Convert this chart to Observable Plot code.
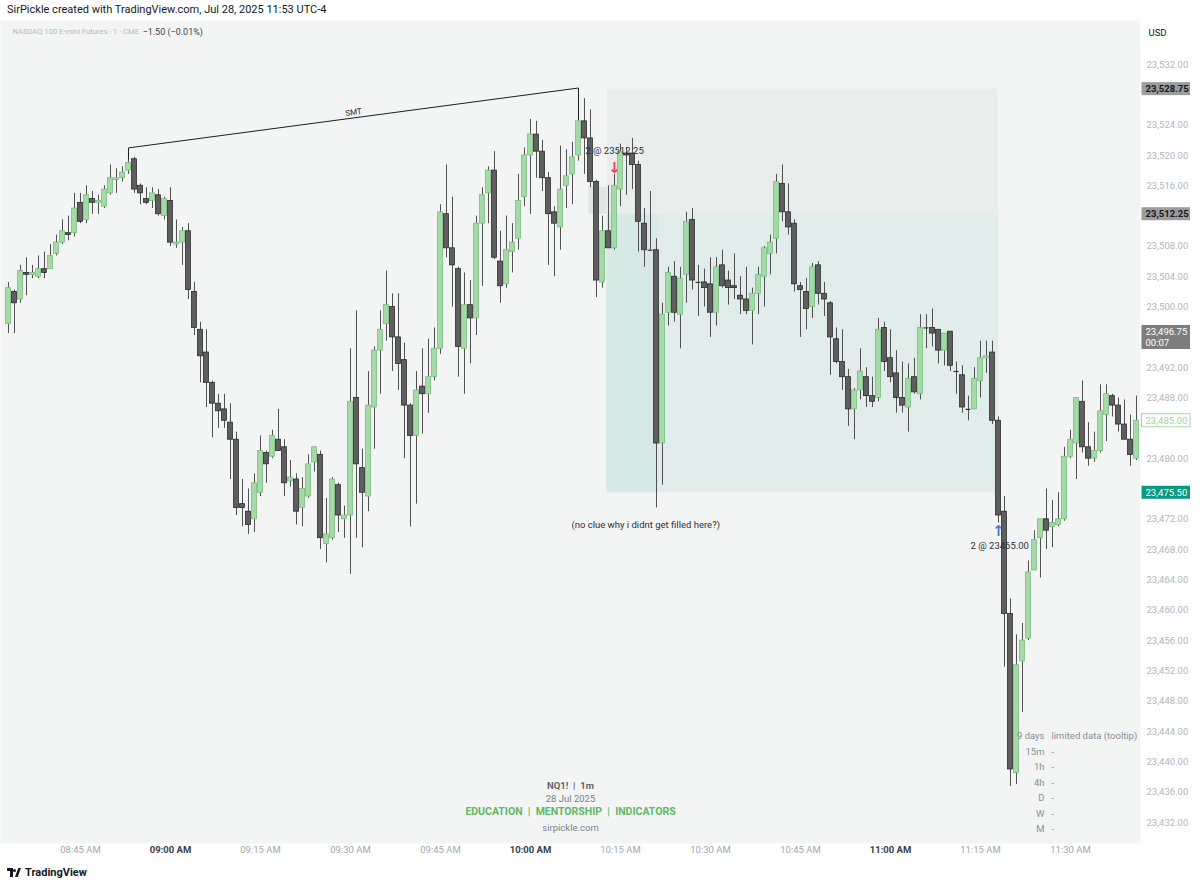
<!DOCTYPE html>
<html><head><meta charset="utf-8">
<script src="https://cdn.jsdelivr.net/npm/d3@7"></script>
<script src="https://cdn.jsdelivr.net/npm/@observablehq/plot@0.6"></script>
<style>
html,body{margin:0;padding:0;background:#fff;}
body{width:1200px;height:883px;overflow:hidden;font-family:Roboto,"Liberation Sans",sans-serif;}
#hdr{height:20px;line-height:20px;font-size:11px;color:#131722;padding-left:7px;box-sizing:border-box;}
#chart{height:842px;}
#ftr{height:21px;display:flex;align-items:center;padding-left:7px;font-size:11px;font-weight:700;color:#131722;gap:4px;}
.logo{position:relative;width:14px;height:9px;}
.logo .a{position:absolute;left:0;top:0;width:6px;height:3px;background:#131722;}
.logo .b{position:absolute;left:3px;top:0;width:3px;height:9px;background:#131722;}
.logo .c{position:absolute;left:6px;top:1px;width:3px;height:3px;border-radius:50%;background:#131722;}
.logo .d{position:absolute;left:8px;top:0;width:6px;height:9px;background:#131722;clip-path:polygon(55% 0,100% 0,45% 100%,0 100%);}
</style></head>
<body>
<div id="hdr">SirPickle created with TradingView.com, Jul 28, 2025 11:53 UTC-4</div>
<div id="chart"></div>
<div id="ftr"><div class="logo"><div class="a"></div><div class="b"></div><div class="c"></div><div class="d"></div></div><span>TradingView</span></div>
<script>
// ---------- DATA ----------
const startMinute = 8 * 60 + 33; // first 1-minute bar: 08:33
const opens = [
23497.75,23502.0,23501.0,23504.5,23504.25,23504.0,23505.0,23505.0,23507.0,23508.5,
23509.75,23509.75,23513.75,23511.5,23514.25,23513.75,23513.25,23515.0,23516.75,23517.0,
23518.0,23519.5,23516.0,23514.25,23514.0,23514.75,23512.0,23514.0,23508.25,23508.5,
23510.0,23502.0,23497.0,23494.0,23490.0,23487.25,23486.5,23484.75,23482.5,23474.0,
23473.0,23472.0,23475.5,23480.75,23480.25,23482.5,23481.5,23477.0,23477.25,23473.5,
23475.0,23479.5,23480.5,23468.75,23469.5,23476.5,23472.0,23472.5,23488.0,23478.75,
23475.0,23486.75,23494.25,23497.75,23500.0,23496.0,23493.0,23487.0,23483.0,23489.5,
23488.5,23490.75,23494.5,23512.25,23507.75,23505.0,23494.5,23500.25,23498.5,23511.0,
23515.0,23518.0,23506.0,23503.0,23507.25,23509.0,23514.5,23520.0,23522.75,23520.5,
23517.0,23512.5,23510.5,23516.0,23517.5,23520.0,23524.5,23522.25,23516.5,23503.25,
23510.0,23507.75,23515.5,23520.25,23520.25,23518.75,23511.0,23507.5,23507.5,23482.0,
23499.25,23504.0,23499.0,23504.25,23511.5,23503.25,23503.25,23503.0,23499.25,23505.5,
23503.5,23502.75,23501.5,23501.0,23499.5,23501.75,23504.0,23507.0,23509.0,23516.25,
23512.5,23511.0,23502.75,23502.0,23500.0,23505.5,23501.75,23500.5,23495.75,23492.75,
23490.75,23486.5,23489.0,23490.75,23488.25,23488.0,23497.25,23493.25,23491.25,23488.0,
23486.75,23490.75,23488.5,23497.25,23497.25,23497.0,23494.25,23496.75,23491.5,23491.0,
23486.5,23486.5,23490.25,23493.25,23494.0,23485.0,23473.0,23459.5,23438.5,23453.25,
23456.25,23465.25,23469.5,23472.0,23471.0,23471.25,23472.0,23480.25,23482.0,23487.5,
23481.5,23480.0,23481.0,23485.75,23488.25,23487.0,23484.5,23482.5,23480.0];
const highs = [
23503.25,23502.25,23505.5,23506.5,23505.5,23506.75,23507.25,23508.25,23509.5,23511.5,
23512.0,23515.0,23515.0,23516.0,23515.25,23514.75,23516.0,23518.75,23518.25,23518.5,
23520.75,23519.75,23516.25,23515.75,23515.75,23515.5,23514.5,23515.75,23511.5,23510.5,
23511.0,23503.25,23498.0,23497.0,23490.25,23488.5,23488.5,23487.25,23483.5,23477.25,
23476.0,23478.0,23483.0,23481.0,23483.75,23486.5,23482.5,23479.75,23478.0,23477.5,
23480.5,23481.5,23481.0,23474.75,23477.5,23476.75,23473.75,23494.5,23499.5,23481.25,
23491.5,23494.75,23499.5,23504.75,23501.75,23501.75,23495.25,23487.25,23491.5,23494.5,
23495.75,23497.25,23513.5,23518.75,23514.5,23505.25,23504.5,23503.5,23512.0,23515.75,
23518.5,23520.5,23510.0,23512.0,23511.0,23517.5,23521.0,23524.75,23524.5,23522.0,
23517.75,23513.25,23521.25,23520.75,23521.75,23526.0,23527.5,23526.0,23516.75,23512.0,
23516.0,23517.5,23521.5,23521.0,23522.25,23519.25,23513.0,23515.25,23509.0,23500.5,
23505.25,23506.0,23505.25,23512.5,23513.0,23505.5,23505.0,23506.5,23506.5,23507.5,
23504.75,23507.0,23504.0,23505.25,23502.5,23505.25,23508.0,23509.5,23517.5,23518.75,
23516.25,23511.5,23503.25,23503.75,23505.75,23506.0,23503.25,23500.75,23497.25,23497.0,
23491.75,23489.25,23494.5,23492.0,23490.75,23498.5,23498.0,23497.0,23494.25,23492.75,
23492.5,23493.25,23499.0,23499.0,23499.75,23497.0,23496.5,23496.75,23492.75,23492.25,
23488.25,23492.0,23495.5,23495.5,23495.5,23485.5,23475.0,23461.5,23456.75,23458.25,
23466.5,23470.5,23472.0,23476.0,23474.5,23475.5,23481.5,23483.75,23488.0,23490.25,
23484.75,23483.5,23489.75,23489.75,23488.5,23488.0,23487.75,23485.75,23488.25];
const lows = [
23496.5,23496.5,23500.5,23501.5,23503.75,23503.75,23503.75,23505.0,23506.75,23508.25,
23508.75,23509.25,23511.0,23511.0,23512.25,23512.25,23513.0,23514.75,23515.0,23516.5,
23517.5,23515.0,23513.5,23513.5,23513.0,23512.0,23511.5,23508.0,23507.75,23505.5,
23501.0,23496.25,23490.0,23486.75,23482.75,23484.0,23484.0,23477.25,23472.5,23471.0,
23470.0,23470.25,23475.0,23476.75,23480.0,23481.0,23475.0,23476.25,23471.25,23471.0,
23474.75,23478.25,23468.0,23466.25,23469.25,23470.25,23469.5,23464.75,23469.5,23468.25,
23473.0,23481.25,23488.5,23495.5,23491.5,23489.0,23480.0,23471.0,23474.0,23483.25,
23486.0,23490.25,23493.75,23506.5,23500.0,23490.75,23488.5,23492.5,23496.25,23502.75,
23511.0,23506.25,23500.5,23502.5,23504.5,23507.5,23513.25,23512.25,23517.0,23515.25,
23505.5,23504.0,23507.5,23513.0,23513.5,23519.25,23517.5,23515.75,23501.25,23502.5,
23507.75,23507.5,23513.25,23514.75,23515.5,23507.25,23505.25,23507.5,23473.5,23476.5,
23497.5,23498.0,23494.5,23500.5,23502.25,23498.75,23500.0,23496.0,23497.5,23502.5,
23500.25,23501.0,23499.0,23499.0,23495.0,23499.0,23500.0,23504.25,23507.0,23511.25,
23509.5,23502.0,23496.0,23497.0,23498.5,23500.25,23498.75,23491.0,23492.5,23489.0,
23484.25,23482.5,23487.75,23486.75,23486.75,23487.5,23491.5,23490.0,23486.0,23486.0,
23483.5,23488.5,23487.75,23494.5,23494.75,23492.5,23492.25,23491.5,23488.5,23486.0,
23485.0,23486.5,23488.0,23491.25,23484.5,23471.5,23452.5,23436.75,23437.0,23446.5,
23456.0,23465.25,23464.25,23468.0,23468.25,23471.0,23471.75,23480.0,23477.25,23480.75,
23479.0,23479.5,23480.75,23482.25,23485.5,23483.5,23482.5,23479.0,23479.75];
const closes = [
23502.5,23500.5,23504.75,23504.25,23504.5,23505.0,23504.5,23506.75,23508.5,23510.0,
23509.5,23513.0,23511.25,23514.75,23513.75,23514.0,23515.5,23517.0,23517.0,23517.75,
23519.0,23515.5,23515.0,23513.75,23515.0,23512.25,23514.25,23508.5,23508.5,23510.0,
23502.25,23497.25,23493.5,23490.0,23487.25,23486.25,23485.0,23482.5,23473.5,23473.5,
23471.25,23476.75,23481.0,23479.25,23483.0,23481.0,23476.75,23477.5,23473.0,23476.0,
23479.25,23481.5,23469.5,23470.0,23477.25,23472.5,23472.5,23487.5,23479.25,23475.5,
23487.0,23494.25,23497.0,23500.25,23496.0,23492.5,23487.0,23483.0,23489.0,23488.5,
23490.75,23494.5,23512.5,23507.75,23505.5,23494.75,23500.25,23498.5,23511.0,23514.75,
23518.0,23506.5,23502.75,23507.5,23508.5,23514.0,23520.0,23522.75,23520.5,23517.0,
23512.25,23511.0,23515.5,23517.25,23519.75,23524.5,23522.25,23516.5,23503.5,23510.0,
23507.75,23516.0,23520.5,23520.0,23518.75,23511.25,23507.5,23507.5,23482.0,23499.0,
23504.5,23499.25,23503.75,23511.25,23503.5,23503.25,23502.5,23499.25,23505.25,23502.75,
23502.5,23502.5,23501.0,23499.5,23501.75,23504.25,23507.75,23508.5,23516.5,23512.5,
23510.5,23503.0,23502.25,23499.75,23505.25,23501.75,23501.0,23496.0,23492.75,23490.75,
23486.5,23489.0,23491.5,23488.25,23487.5,23497.0,23492.75,23490.75,23488.0,23487.0,
23490.5,23488.75,23497.25,23497.25,23496.5,23494.25,23496.5,23492.25,23491.5,23486.75,
23486.5,23490.5,23493.25,23493.5,23485.0,23472.5,23459.5,23439.0,23452.75,23456.0,
23465.0,23469.25,23472.0,23470.5,23471.5,23472.0,23480.25,23482.5,23488.0,23481.5,
23480.0,23481.0,23486.25,23488.5,23487.0,23484.5,23482.5,23480.5,23485.0];

// short position tool (times in minutes after midnight, prices in USD)
const positionStart = 612.75, positionEnd = 678, filledEnd = 621.25;
const entryPrice = 23512.25, stopPrice = 23528.75, targetPrice = 23475.50;
const lastPrice = 23496.75, lastCountdown = "00:07", seriesPrice = 23485.00;

// SMT divergence line (time, price)
const smtTimes = [533, 533, 608, 608];
const smtPrices = [23519.5, 23521.0, 23528.9, 23524.75];

// annotations
const annotationTexts = ["2 @ 23512.25", "(no clue why i didnt get filled here?)", "2 @ 23465.00"];
const annotationTimes = [614, 619.2, 678.2];
const annotationPrices = [23520.65, 23471.3, 23468.5];
const arrowTimes = [614, 678];
const arrowPrices = [23518.3, 23470.4];
const arrowGlyphs = ["↓", "↑"];

// axes
const priceTicks = [23532,23528,23524,23520,23516,23512,23508,23504,23500,23496,23492,23488,
  23484,23480,23476,23472,23468,23464,23460,23456,23452,23448,23444,23440,23436,23432];
const timeTicks = [525,540,555,570,585,600,615,630,645,660,675,690];
const timeTickLabels = ["08:45 AM","09:00 AM","09:15 AM","09:30 AM","09:45 AM","10:00 AM",
  "10:15 AM","10:30 AM","10:45 AM","11:00 AM","11:15 AM","11:30 AM"];
const hourTicks = [540, 600, 660];

const tableLabels = ["9 days","15m","1h","4h","D","W","M"];
const tableValues = ["limited data (tooltip)","-","-","-","-","-","-"];

// ---------- BUILD ----------
const candles = opens.map((o, i) => ({t: startMinute + i, o, h: highs[i], l: lows[i], c: closes[i]}));
const up = candles.filter(d => d.c - d.o > 0.1);
const down = candles.filter(d => d.o - d.c > 0.1);
const doji = candles.filter(d => Math.abs(d.c - d.o) <= 0.1);
const hw = 0.4;

const xDomain = [511.667, 701.667];
const yDomain = [23429.23, 23537.805];
const xEnd = xDomain[1];
const minPerPx = 1 / 6, ptPerPx = 1 / 7.58;
const tagX1 = xEnd + 1.5 * minPerPx, tagX2 = xEnd + 50 * minPerPx;

const position = [{start: positionStart, end: positionEnd, filledEnd, entry: entryPrice, stop: stopPrice, target: targetPrice}];
const smt = smtTimes.map((t, i) => ({t, p: smtPrices[i]}));
const notes = annotationTexts.map((s, i) => ({s, t: annotationTimes[i], p: annotationPrices[i]}));
const arrows = arrowGlyphs.map((g, i) => ({g, t: arrowTimes[i], p: arrowPrices[i]}));
const ticks = timeTicks.map((t, i) => ({t, label: timeTickLabels[i], bold: hourTicks.includes(t)}));
const fmt = d3.format(",.2f");

// tags drawn on the price axis; tick labels hidden under them are left out
const tagSpans = [
  [stopPrice + 6.5 * ptPerPx, stopPrice - 6.5 * ptPerPx],
  [entryPrice + 6.5 * ptPerPx, entryPrice - 6.5 * ptPerPx],
  [lastPrice + 6.2 * ptPerPx, lastPrice - 17.8 * ptPerPx],
  [seriesPrice + 6.5 * ptPerPx, seriesPrice - 6.5 * ptPerPx],
  [targetPrice + 6.5 * ptPerPx, targetPrice - 6.5 * ptPerPx]
];
const visibleTicks = priceTicks.filter(p => !tagSpans.some(([hi, lo]) => p < hi + 5 * ptPerPx && p > lo - 5 * ptPerPx));

const grayTags = [stopPrice, entryPrice].map(p => ({p}));

const chart = Plot.plot({
  width: 1200, height: 842,
  marginLeft: 0, marginRight: 60, marginTop: 0, marginBottom: 19,
  x: {domain: xDomain, axis: null},
  y: {domain: yDomain, axis: null},
  style: {fontFamily: "Roboto, 'Liberation Sans', sans-serif", background: "transparent", overflow: "visible"},
  marks: [
    Plot.frame({fill: "#f3f5f4", stroke: "none"}),
    // position zones
    Plot.rect(position, {x1: "start", x2: "end", y1: "entry", y2: "stop", fill: "#e9edeb"}),
    Plot.rect(position, {x1: "start", x2: "end", y1: "entry", y2: "target", fill: "#e0edea"}),
    Plot.rect(position, {x1: "start", x2: "filledEnd", y1: "entry", y2: "target", fill: "#d6e9e5"}),
    Plot.rect(position, {x1: d => d.start - 18 * minPerPx, x2: "start", y1: "entry", y2: d => d.entry + 27 * ptPerPx, fill: "#e3e5e4"}),
    // price axis labels
    Plot.axisY({anchor: "right", ticks: visibleTicks, tickFormat: fmt, tickSize: 0, tickPadding: 6, fontSize: 9.5, color: "#b2b5bc", label: null}),
    // time axis labels
    Plot.text(ticks.filter(d => !d.bold), {x: "t", text: "label", frameAnchor: "bottom", dy: 9, fill: "#a3a6ae", fontSize: 9.5}),
    Plot.text(ticks.filter(d => d.bold), {x: "t", text: "label", frameAnchor: "bottom", dy: 9, fill: "#3a3d45", fontSize: 9.5, fontWeight: "bold"}),
    // candles
    Plot.ruleX(candles, {x: "t", y1: "l", y2: "h", stroke: "#4f4f4f", strokeWidth: 1}),
    Plot.rect(up, {x1: d => d.t - hw, x2: d => d.t + hw, y1: "o", y2: "c", fill: "#a6d9a8", stroke: "#79bd7d", strokeWidth: 0.8}),
    Plot.rect(down, {x1: d => d.t - hw, x2: d => d.t + hw, y1: "o", y2: "c", fill: "#5e5e5e", stroke: "#2b2b2b", strokeWidth: 0.8}),
    Plot.ruleY(doji, {y: "o", x1: d => d.t - hw, x2: d => d.t + hw, stroke: "#333", strokeWidth: 1.2}),
    // SMT
    Plot.line(smt, {x: "t", y: "p", stroke: "#1c1e24", strokeWidth: 1}),
    Plot.text(["SMT"], {x: () => 570.5, y: () => 23525.7, rotate: -7.6, fontSize: 8, fill: "#1c1e24"}),
    // annotations
    Plot.text(notes, {x: "t", y: "p", text: "s", fontSize: 9.5, fill: "#2a2e39"}),
    Plot.text(arrows.slice(0, 1), {x: "t", y: "p", text: "g", fontSize: 15, fontWeight: "bold", fill: "#e8474f", fontFamily: "DejaVu Sans"}),
    Plot.text(arrows.slice(1), {x: "t", y: "p", text: "g", fontSize: 15, fontWeight: "bold", fill: "#4a7bd8", fontFamily: "DejaVu Sans"}),
    // legend top-left
    Plot.text(["NASDAQ 100 E-mini Futures · 1 · CME"], {frameAnchor: "top-left", dx: 12, dy: 8, textAnchor: "start", fill: "#b5b8bf", fontSize: 7.6}),
    Plot.text(["−1.50 (−0.01%)"], {frameAnchor: "top-left", dx: 142, dy: 8, textAnchor: "start", fill: "#3d4049", fontSize: 9}),
    Plot.text(["USD"], {frameAnchor: "top-right", dx: 8, dy: 9, textAnchor: "start", fill: "#131722", fontSize: 9.5}),
    // watermark
    Plot.text(["NQ1!  |  1m"], {frameAnchor: "bottom", dy: -55, fill: "#5f626b", fontWeight: "bold", fontSize: 9.5}),
    Plot.text(["28 Jul 2025"], {frameAnchor: "bottom", dy: -42, fill: "#7b7e87", fontSize: 9.5}),
    Plot.text(["EDUCATION  |  MENTORSHIP  |  INDICATORS"], {frameAnchor: "bottom", dy: -29, fill: "#5fb865", fontWeight: "bold", fontSize: 10.5}),
    Plot.text(["sirpickle.com"], {frameAnchor: "bottom", dy: -13, fill: "#7b7e87", fontSize: 9.5}),
    // bottom-right table
    Plot.text([tableLabels.join("\n")], {frameAnchor: "bottom-right", dx: -96, dy: -115, lineAnchor: "top", textAnchor: "end", lineHeight: 1.63, fill: "#8a8d96", fontSize: 9.5}),
    Plot.text([tableValues.join("\n")], {frameAnchor: "bottom-right", dx: -89, dy: -115, lineAnchor: "top", textAnchor: "start", lineHeight: 1.63, fill: "#8a8d96", fontSize: 9.5}),
    // price tags on the axis
    Plot.rect(grayTags, {x1: () => tagX1, x2: () => tagX2, y1: d => d.p + 6.5 * ptPerPx, y2: d => d.p - 6.5 * ptPerPx, fill: "#9c9c9c"}),
    Plot.text(grayTags, {x: () => xEnd, y: "p", text: d => fmt(d.p), dx: 5, textAnchor: "start", fill: "#131722", fontSize: 9.5, fontWeight: "bold"}),
    Plot.rect([lastPrice], {x1: () => tagX1, x2: () => tagX2, y1: d => d + 6.2 * ptPerPx, y2: d => d - 17.8 * ptPerPx, fill: "#7d7d7d"}),
    Plot.text([lastPrice], {x: () => xEnd, y: d => d, text: d => fmt(d), dx: 5, textAnchor: "start", fill: "#fff", fontSize: 9.5}),
    Plot.text([lastCountdown], {x: () => xEnd, y: () => lastPrice, dx: 5, dy: 11, textAnchor: "start", fill: "#fff", fontSize: 9.5}),
    Plot.rect([seriesPrice], {x1: () => tagX1, x2: () => tagX2, y1: d => d + 6.5 * ptPerPx, y2: d => d - 6.5 * ptPerPx, fill: "#ffffff", stroke: "#a5d6a7", strokeWidth: 1}),
    Plot.text([seriesPrice], {x: () => xEnd, y: d => d, text: d => fmt(d), dx: 5, textAnchor: "start", fill: "#9fd3a1", fontSize: 9.5}),
    Plot.rect([targetPrice], {x1: () => tagX1, x2: () => tagX2, y1: d => d + 6.5 * ptPerPx, y2: d => d - 6.5 * ptPerPx, fill: "#089981"}),
    Plot.text([targetPrice], {x: () => xEnd, y: d => d, text: d => fmt(d), dx: 5, textAnchor: "start", fill: "#fff", fontSize: 9.5})
  ]
});
document.getElementById("chart").appendChild(chart);
</script>
</body></html>
